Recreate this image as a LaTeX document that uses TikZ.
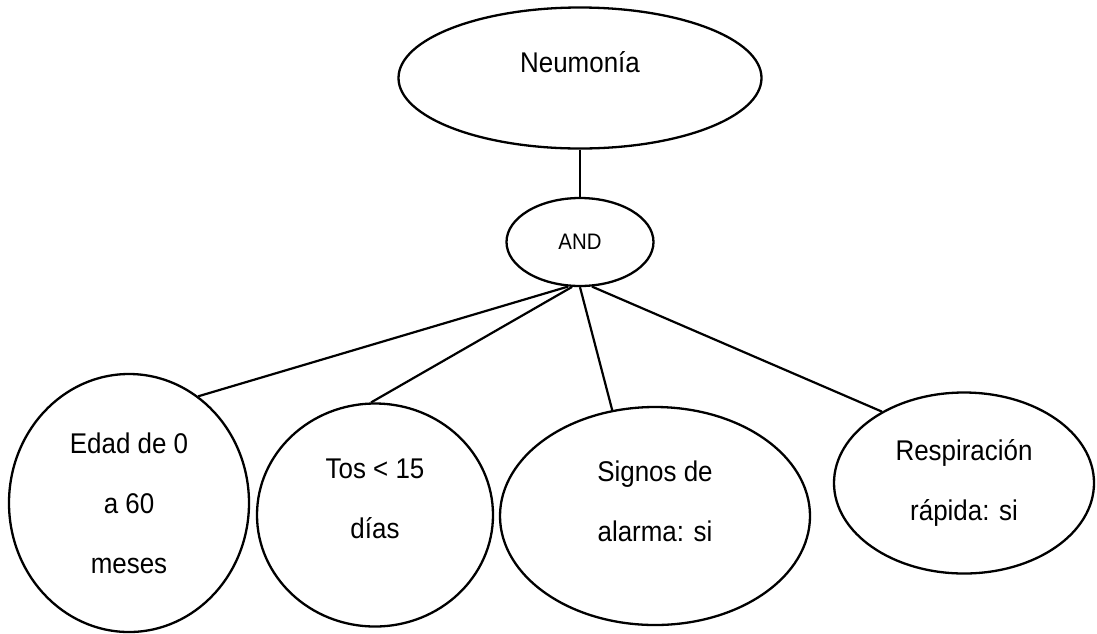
\documentclass[tikz,border=0pt]{standalone}
\usepackage{fontspec}
\setmainfont[FakeStretch=0.91]{Liberation Sans}
\usetikzlibrary{shapes.geometric}

\begin{document}
\begin{tikzpicture}[x=1pt, y=-1pt,
  e/.style={ellipse, draw, line width=2.3pt, inner sep=0pt},
  txt/.style={font=\fontsize{28.5}{60}\selectfont, align=center},
  conn/.style={line width=2.2pt}]

\useasboundingbox (0,0) rectangle (1097,633);

% Goal
\node[e, minimum width=363pt, minimum height=141pt,
  label={[txt, yshift=15.5pt]center:{Neumonía}}] (neu) at (580,78) {};

% Operator
\node[e, minimum width=147pt, minimum height=88pt,
  font=\fontsize{22.4}{26}\selectfont] (and) at (580,242) {AND};

% Conditions
\node[e, minimum width=240pt, minimum height=258pt,
  label={[txt]center:{Edad de 0\\a 60\\meses}}] (edad) at (129,503) {};
\node[e, minimum width=236pt, minimum height=223pt,
  label={[txt, yshift=16.5pt]center:{Tos < 15\\días}}] (tos) at (375,515) {};
\node[e, minimum width=310pt, minimum height=218pt,
  label={[txt, yshift=14.5pt]center:{Signos de\\alarma: si}}] (sig) at (655,516) {};
\node[e, minimum width=260pt, minimum height=181pt,
  label={[txt]center:{Respiración\\rápida: si}}] (resp) at (964,483) {};

% Connections
\draw[conn] (neu) -- (and);
\draw[conn] (and.-105) -- (edad.57);
\draw[conn] (and.-100) -- (tos.92);
\draw[conn] (and.-90) -- (sig.112);
\draw[conn] (and.-75) -- (resp.139);

\end{tikzpicture}
\end{document}
